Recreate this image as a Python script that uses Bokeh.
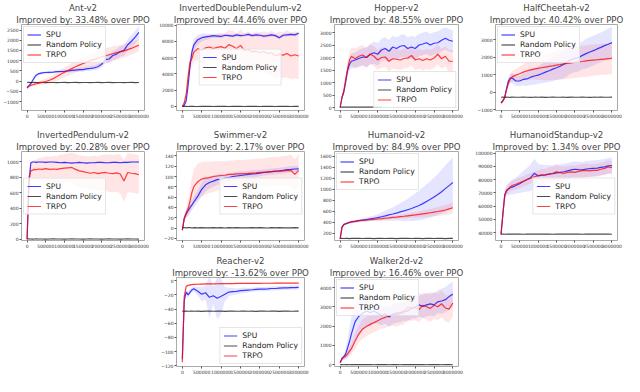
import numpy as np
from bokeh.plotting import figure
from bokeh.layouts import gridplot
from bokeh.models import Title, FixedTicker, BasicTickFormatter, Range1d
from bokeh.embed import file_html
from bokeh.resources import INLINE

NaN = float("nan")

# training steps (millions)
steps_m = [0, 0.05, 0.1, 0.15, 0.2, 0.25, 0.3,
           0.4, 0.5, 0.6, 0.7, 0.8, 0.9, 1.0,
           1.1, 1.2, 1.3, 1.4, 1.5, 1.6, 1.7, 1.8, 1.9, 2.0,
           2.1, 2.2, 2.3, 2.4, 2.5, 2.6, 2.7, 2.8, 2.9, 3.0]
x_ticks = [0, 500000, 1000000, 1500000, 2000000, 2500000, 3000000]
series_labels = ["SPU", "Random Policy", "TRPO"]

# ---------------- Ant-v2 ----------------
ant_spu = [-340, -220, -120, 30, 180, 300, 350,
           400, 420, 430, 440, 460, 470, 480,
           500, 520, 540, 560, 560, 600, 620, 650, 700, 820,
           1050, 1080, 1250, 1320, 1450, 1500, 1780, 1950, 2150, 2380]
ant_spu_err = [80, 80, 80, 70, 60, 60, 60,
               60, 60, 70, 70, 70, 80, 80,
               80, 90, 90, 100, 100, 110, 120, 120, 130, 150,
               180, 200, 220, 240, 250, 260, 280, 300, 320, 330]
ant_trpo = [-300, -250, -210, -180, -150, -130, -110,
            -70, -20, 40, 120, 220, 330, 430,
            520, 610, 700, 780, 860, 930, 1000, 1060, 1120, 1180,
            1240, 1290, 1340, 1390, 1430, 1480, 1540, 1600, 1680, 1760]
ant_trpo_err = [60, 60, 60, 70, 80, 90, 100,
                120, 140, 160, 180, 200, 220, 240,
                260, 280, 290, 300, 320, 330, 340, 350, 360, 370,
                370, 370, 360, 350, 340, 330, 320, 310, 300, 300]
ant_rand = [-70, -65, -75, -70, -68, -72, -70,
            -66, -74, -70, -69, -71, -70, -67,
            -73, -70, -68, -72, -70, -69, -71, -70, -66, -74,
            -70, -68, -72, -70, -69, -71, -70, -67, -73, -70]
ant_yticks = [-1000, -500, 0, 500, 1000, 1500, 2000, 2500]

# ---------------- InvertedDoublePendulum-v2 ----------------
idp_spu = [0, 150, 700, 2600, 5000, 6750, 7600,
           8200, 8450, 8550, 8600, 8700, 8650, 8600,
           8750, 8700, 8650, 8800, 8700, 8750, 8850, 8700, 8800, 8750,
           8650, 8700, 8800, 8700, 8450, 8750, 8800, 8850, 8800, 9000]
idp_spu_err = [0, 100, 300, 600, 700, 700, 700,
               600, 500, 400, 300, 250, 250, 250,
               200, 200, 200, 200, 200, 200, 200, 200, 200, 200,
               200, 200, 200, 200, 200, 200, 200, 200, 200, 200]
idp_trpo = [0, 450, 1500, 3700, 5500, 5900, 6700,
            7100, 6900, 7200, 7300, 7100, 7250, 7350,
            7150, 7600, 7400, 7100, 7500, 6900, 7000, 6700, 6800, 6600,
            6750, 6500, 6600, 6200, 6400, 6300, 6500, 6200, 6350, 6200]
idp_trpo_err = [0, 200, 500, 800, 900, 1000, 1200,
                1400, 1500, 1500, 1600, 1600, 1700, 1700,
                1800, 1800, 1900, 1900, 2000, 2100, 2200, 2300, 2400, 2500,
                2500, 2600, 2700, 2800, 2800, 2800, 2900, 2900, 2900, 2900]
idp_rand = [0, 10, 0, -10, 0, 10, 0,
            -10, 0, 10, 0, -10, 0, 10,
            0, -10, 0, 10, 0, -10, 0, 10, 0, -10,
            0, 10, 0, -10, 0, 10, 0, -10, 0, 10]
idp_yticks = [0, 2000, 4000, 6000, 8000, 10000]

# ---------------- Hopper-v2 ----------------
hop_spu = [0, 400, 630, 1040, 1500, 1730, 1850,
           1900, 1960, 2020, 2000, 2130, 2190, 2130,
           2300, 2360, 2250, 2420, 2360, 2450, 2480, 2360, 2420, 2360,
           2500, 2540, 2590, 2500, 2570, 2590, 2690, 2770, 2690, 2650]
hop_spu_err = [0, 50, 100, 150, 200, 250, 300,
               300, 350, 350, 400, 400, 450, 450,
               450, 450, 450, 450, 450, 450, 450, 450, 450, 450,
               450, 450, 450, 450, 450, 450, 450, 450, 450, 450]
hop_trpo = [0, 400, 680, 1150, 1550, 1900, 2050,
            1950, 2050, 2100, 2000, 2130, 2050, 1900,
            2000, 2020, 1850, 1950, 1930, 1900, 1960, 1980, 2080, 1900,
            1950, 1880, 1950, 1900, 1980, 2130, 1950, 2050, 1850, 1850]
hop_trpo_err = [0, 50, 150, 250, 300, 350, 350,
                400, 400, 400, 400, 400, 400, 400,
                400, 400, 400, 400, 400, 400, 400, 400, 400, 400,
                400, 400, 400, 400, 400, 400, 400, 400, 450, 450]
hop_rand = [15, 18, 14, 16, 15, 17, 15,
            16, 14, 18, 15, 16, 17, 15,
            16, NaN, NaN, NaN, NaN, NaN, NaN, NaN, NaN, NaN,
            NaN, NaN, NaN, NaN, NaN, NaN, NaN, NaN, NaN, NaN]
hop_yticks = [0, 500, 1000, 1500, 2000, 2500, 3000]

# ---------------- HalfCheetah-v2 ----------------
hc_spu = [-620, -490, -290, 220, 640, 810, 810,
          640, 640, 730, 760, 860, 930, 980,
          1060, 1150, 1230, 1320, 1400, 1490, 1600, 1740, 1870, 1940,
          1990, 2110, 2210, 2300, 2380, 2480, 2570, 2670, 2750, 2840]
hc_spu_err = [50, 80, 100, 150, 200, 250, 300,
              300, 300, 350, 400, 450, 500, 500,
              550, 600, 650, 700, 700, 750, 800, 800, 800, 800,
              800, 800, 850, 850, 850, 850, 850, 850, 900, 900]
hc_trpo = [-620, -500, -300, 150, 520, 760, 880,
           980, 1060, 1150, 1220, 1280, 1320, 1360,
           1400, 1440, 1480, 1510, 1550, 1580, 1620, 1650, 1680, 1720,
           1740, 1760, 1790, 1820, 1840, 1860, 1880, 1900, 1920, 1940]
hc_trpo_err = [50, 80, 100, 150, 200, 250, 300,
               350, 400, 450, 500, 550, 600, 650,
               700, 750, 800, 800, 850, 850, 900, 900, 900, 900,
               900, 900, 900, 900, 900, 900, 900, 900, 900, 900]
hc_rand = [-290, -285, -292, -288, -290, -294, -287,
           -290, -291, -286, -290, -293, -289, -290,
           -288, -292, -290, -287, -291, -290, -289, -293, -288, -290,
           -291, -287, -290, -292, -289, -290, -288, -291, -290, -289]
hc_yticks = [-1000, 0, 1000, 2000, 3000]

# ---------------- InvertedPendulum-v2 ----------------
ip_spu = [0, 700, 985, 995, 995, 990, 995,
          995, 990, 995, 995, 990, 985, 990,
          985, 980, 985, 990, 985, 980, 985, 985, 990, 990,
          985, 985, 990, 990, 985, 990, 990, 995, 995, 995]
ip_spu_err = [0, 60, 15, 10, 10, 10, 10,
              10, 10, 10, 10, 10, 10, 10,
              10, 10, 10, 10, 10, 10, 10, 10, 10, 10,
              10, 10, 10, 10, 10, 10, 10, 10, 10, 10]
ip_trpo = [0, 800, 880, 890, 900, 895, 905,
           900, 910, 900, 905, 900, 910, 915,
           920, 925, 900, 880, 870, 860, 850, 860, 845, 855,
           860, 850, 845, 855, 840, 750, 860, 850, 845, 830]
ip_trpo_err = [0, 100, 100, 110, 120, 130, 140,
               150, 160, 160, 170, 170, 180, 180,
               190, 190, 200, 200, 210, 210, 220, 220, 220, 230,
               230, 240, 240, 240, 250, 270, 250, 250, 250, 250]
ip_rand = [3, 4, 3, 2, 3, 4, 3,
           3, 2, 3, 4, 3, 3, 2,
           3, 4, 3, 3, 2, 3, 4, 3, 3, 2,
           3, 4, 3, 3, 2, 3, 4, 3, 3, 2]
ip_yticks = [0, 200, 400, 600, 800, 1000]

# ---------------- Swimmer-v2 ----------------
sw_spu = [-4, 19, 27, 34, 40, 45, 51,
          62, 75, 84, 88.5, 91, 94, 95,
          97, 98, 100, 101, 102, 103, 104, 105, 105.5, 106.7,
          108, 108.5, 109.5, 110.6, 111, 112, 113.5, 114, 114.6, 115]
sw_spu_err = [3, 6, 7, 8, 9, 10, 11,
              12, 13, 13, 12, 11, 10, 10,
              9, 9, 8, 8, 8, 7, 7, 7, 7, 6,
              6, 6, 6, 6, 6, 6, 6, 6, 6, 6]
sw_trpo = [-4, 19, 30, 37.5, 53, 70, 81,
           90, 95, 97, 98, 100, 101, 102,
           102.5, 104, 104, 105, 105, 105.5, 106, 106.7, 107, 108,
           108, 109, 109.5, 110, 110.5, 111, 111.5, 112, 104, 112]
sw_trpo_err = [3, 6, 10, 15, 25, 30, 33,
               35, 33, 32, 30, 30, 28, 28,
               27, 27, 27, 27, 27, 27, 27, 27, 27, 27,
               27, 28, 28, 28, 28, 29, 29, 30, 30, 31]
sw_rand = [0.5, 1.2, 0.3, 0.8, 1.0, 0.2, 0.9,
           0.4, 1.1, 0.6, 0.3, 1.0, 0.5, 0.8,
           0.2, 0.9, 0.6, 1.1, 0.4, 0.7, 0.3, 1.0, 0.5, 0.8,
           0.6, 0.2, 0.9, 0.5, 1.0, 0.4, 0.7, 0.3, 0.8, 0.6]
sw_yticks = [-20, 0, 20, 40, 60, 80, 100, 120, 140]

# ---------------- Humanoid-v2 ----------------
hu_spu = [100, 320, 365, 375, 387, 398, 409,
          420, 431, 442, 453, 464, 475, 486,
          503, 519, 536, 552, 569, 591, 608, 630, 652, 680,
          707, 740, 779, 818, 862, 906, 956, 1011, 1066, 1121]
hu_spu_err = [10, 20, 20, 20, 20, 20, 20,
              25, 30, 35, 40, 45, 50, 60,
              75, 90, 105, 120, 140, 160, 180, 200, 225, 250,
              270, 290, 310, 330, 350, 370, 395, 420, 440, 460]
hu_trpo = [100, 310, 360, 375, 390, 400, 410,
           420, 430, 437, 443, 450, 456, 462,
           468, 475, 482, 490, 497, 505, 512, 520, 528, 536,
           545, 555, 565, 575, 585, 597, 610, 625, 645, 665]
hu_trpo_err = [10, 20, 20, 20, 20, 20, 20,
               20, 20, 20, 20, 20, 25, 25,
               25, 30, 30, 30, 35, 35, 40, 40, 45, 50,
               55, 60, 65, 70, 75, 80, 85, 90, 95, 100]
hu_rand = [110, 112, 109, 111, 110, 108, 111,
           110, 112, 109, 110, 111, 108, 110,
           112, 109, 111, 110, 108, 111, 110, 112, 109, 110,
           111, 108, 110, 112, 109, 111, 110, 108, 111, 110]
hu_yticks = [200, 400, 600, 800, 1000, 1200, 1400, 1600]

# ---------------- HumanoidStandup-v2 ----------------
hs_spu = [38600, 54000, 68100, 71700, 72900, 73800, 74300,
          75500, 76900, 78500, 80000, 81400, 84700, 82800,
          83300, 83500, 84000, 84400, 85100, 85400, 85900, 86600, 87300, 87800,
          87500, 87300, 88000, 88200, 88500, 88700, 89200, 89600, 90400, 90600]
hs_spu_err = [1000, 3000, 4000, 4000, 4500, 5000, 5500,
              6000, 7000, 8000, 9000, 10000, 11000, 9000,
              8000, 7500, 7000, 6500, 6500, 6000, 6000, 6000, 6000, 6000,
              6000, 6000, 6000, 6000, 6000, 6000, 6000, 6000, 6000, 6000]
hs_trpo = [38600, 54000, 68500, 71500, 73000, 74500, 75500,
           76500, 77500, 78700, 79900, 81000, 82000, 83000,
           83400, 83600, 84300, 84800, 85800, 85200, 84600, 85500, 85800, 85400,
           86200, 86800, 87000, 86600, 87000, 87000, 87800, 88500, 89500, 89000]
hs_trpo_err = [1000, 2000, 3000, 3000, 3500, 3500, 3500,
               4000, 4000, 4000, 4000, 4000, 4000, 4000,
               4500, 4500, 5000, 5000, 5000, 5000, 5000, 5000, 5000, 5000,
               5000, 5000, 5000, 5000, 5000, 5000, 5000, 5000, 5000, 5000]
hs_rand = [38800, 38900, 38700, 38800, 38850, 38750, 38800,
           38900, 38800, 38700, 38800, 38850, 38800, 38750,
           38800, 38900, 38800, 38700, 38800, 38850, 38800, 38750, 38800, 38900,
           38800, 38700, 38800, 38850, 38800, 38750, 38800, 38900, 38800, 38700]
hs_yticks = [40000, 50000, 60000, 70000, 80000, 90000, 100000]

# ---------------- Reacher-v2 ----------------
re_spu = [-110, -27.7, -16, -20, -16, -12.8, -11.5,
          -15, -19, -17, -23.4, -21.3, -24.7, -22,
          -19, -16, -15.3, -15, -14, -13.6, -13.2, -12.8, -12.3, -11.9,
          -11.9, -11.5, -11, -11, -10.6, -10.2, -10.2, -9.8, -9.8, -9.4]
re_spu_err = [2, 5, 4, 4, 4, 4, 4,
              6, 10, 10, 30, 12, 30, 25,
              10, 6, 5, 4, 4, 4, 3, 3, 3, 3,
              3, 3, 3, 3, 3, 3, 3, 3, 3, 3]
re_trpo = [-115, -22, -8, -6.5, -6, -5.5, -5.2,
           -5, -4.8, -4.6, -4.5, -4.4, -4.3, -4.2,
           -4.1, -4.0, -4.0, -3.9, -3.9, -3.8, -3.8, -3.7, -3.7, -3.7,
           -3.6, -3.6, -3.6, -3.5, -3.5, -3.5, -3.4, -3.4, -3.4, -3.4]
re_trpo_err = [1, 1, 1, 1, 1, 1, 1,
               1, 1, 1, 1, 1, 1, 1,
               1, 1, 1, 1, 1, 1, 1, 1, 1, 1,
               1, 1, 1, 1, 1, 1, 1, 1, 1, 1]
re_rand = [-43, -43.2, -42.9, -43.1, -43, -42.8, -43.1,
           -43, -43.2, -42.9, -43, -43.1, -42.9, -43,
           -43.2, -43, -42.9, -43.1, -43, -42.8, -43.1, -43, -43.2, -42.9,
           -43, -43.1, -42.9, -43, -43.2, -43, -42.9, -43.1, -43, -42.8]
re_yticks = [-120, -100, -80, -60, -40, -20, 0]

# ---------------- Walker2d-v2 ----------------
wa_spu = [95, 330, 410, 570, 885, 1200, 1600,
          2230, 2510, 2670, 2780, 2700, 2780, 2670,
          2545, 2620, 2470, 2620, 2670, 2700, 2780, 2780, 2940, 2990,
          3100, 3020, 3100, 3150, 3100, 3260, 3300, 3370, 3530, 3650]
wa_spu_err = [50, 100, 150, 300, 500, 700, 900,
              1000, 1000, 900, 800, 700, 600, 550,
              500, 500, 500, 500, 500, 500, 500, 550, 550, 600,
              600, 600, 600, 600, 600, 600, 650, 650, 650, 650]
wa_trpo = [95, 300, 380, 450, 560, 700, 830,
           1230, 1600, 1850, 1980, 2090, 2180, 2280,
           2380, 2450, 2550, 2600, 2580, 2650, 2700, 2980, 2920, 2950,
           2850, 3080, 3000, 2920, 3080, 3000, 3160, 2940, 2880, 3200]
wa_trpo_err = [50, 80, 100, 150, 200, 250, 300,
               400, 450, 500, 500, 500, 500, 500,
               500, 550, 550, 600, 600, 600, 600, 650, 650, 650,
               650, 650, 700, 700, 700, 700, 700, 700, 700, 700]
wa_rand = [0, 5, -3, 2, 0, -4, 3,
           0, 4, -2, 1, 0, -3, 2,
           0, 5, -3, 2, 0, -4, 3, 0, 4, -2,
           1, 0, -3, 2, 0, 5, -3, 2, 0, -4]
wa_yticks = [0, 1000, 2000, 3000, 4000]

# ---------------- layout ----------------
SX = 624 / 640
ROW_REF_H = [125, 135, 132]
ROW_H = [120, 130, 126]
CELL_REF_W = 160
CELL_W = 156


def make_panel(name, improved, spu, spu_err, trpo, trpo_err, rand, yrange, yticks,
               row, frame_ref, legend_loc):
    L, T, R, B = frame_ref
    sy = ROW_H[row] / ROW_REF_H[row]
    p = figure(width=CELL_W, height=ROW_H[row], output_backend="svg",
               toolbar_location=None, title=None,
               x_range=Range1d(-150000, 3150000), y_range=Range1d(*yrange),
               min_border_left=int(round(L * SX)),
               min_border_right=int(round((CELL_REF_W - R) * SX)),
               min_border_top=int(round(T * sy)),
               min_border_bottom=int(round((ROW_REF_H[row] - B) * sy)))
    p.add_layout(Title(text=improved, align="center", text_font="DejaVu Sans",
                       text_font_size="8.6px", text_font_style="normal",
                       standoff=0, offset=0), "above")
    p.add_layout(Title(text=name, align="center", text_font="DejaVu Sans",
                       text_font_size="8.6px", text_font_style="normal",
                       standoff=0, offset=0), "above")
    x = [s * 1e6 for s in steps_m]
    s_lo = [m - e for m, e in zip(spu, spu_err)]
    s_hi = [m + e for m, e in zip(spu, spu_err)]
    t_lo = [m - e for m, e in zip(trpo, trpo_err)]
    t_hi = [m + e for m, e in zip(trpo, trpo_err)]
    p.varea(x=x, y1=s_lo, y2=s_hi, fill_color="blue", fill_alpha=0.1)
    p.varea(x=x, y1=t_lo, y2=t_hi, fill_color="red", fill_alpha=0.1)
    p.line(x, spu, color="blue", line_alpha=0.75, line_width=1.2,
           legend_label=series_labels[0])
    p.line(x, rand, color="black", line_alpha=0.7, line_width=1.2,
           legend_label=series_labels[1])
    p.line(x, trpo, color="red", line_alpha=0.75, line_width=1.2,
           legend_label=series_labels[2])

    p.xaxis.ticker = FixedTicker(ticks=x_ticks)
    p.xaxis.formatter = BasicTickFormatter(use_scientific=False)
    p.yaxis.ticker = FixedTicker(ticks=yticks)
    p.yaxis.formatter = BasicTickFormatter(use_scientific=False)
    for ax in (p.xaxis, p.yaxis):
        ax.major_label_text_font = "DejaVu Sans"
        ax.major_label_text_font_size = "4.5px"
        ax.major_label_text_color = "#333333"
        ax.major_label_standoff = 1
        ax.major_tick_out = 2
        ax.major_tick_in = 0
        ax.major_tick_line_color = "#555555"
        ax.minor_tick_line_color = None
        ax.axis_line_color = None
    p.xgrid.visible = False
    p.ygrid.visible = False
    p.outline_line_color = "#aaaaaa"
    p.outline_line_width = 1
    p.background_fill_color = "white"
    p.border_fill_color = "white"

    lg = p.legend[0]
    lg.location = legend_loc
    lg.margin = 2
    lg.padding = 3
    lg.spacing = 1
    lg.label_height = 9
    lg.glyph_height = 9
    lg.glyph_width = 14
    lg.label_standoff = 5
    lg.label_text_font = "DejaVu Sans"
    lg.label_text_font_size = "7.6px"
    lg.label_text_color = "#222222"
    lg.border_line_color = "#cccccc"
    lg.background_fill_alpha = 0.8
    return p


p_ant = make_panel("Ant-v2", "Improved by: 33.48% over PPO", ant_spu, ant_spu_err,
                   ant_trpo, ant_trpo_err, ant_rand, (-1440, 2770), ant_yticks,
                   0, (20, 21, 148, 117), "top_left")
p_idp = make_panel("InvertedDoublePendulum-v2", "Improved by: 44.46% over PPO", idp_spu,
                   idp_spu_err, idp_trpo, idp_trpo_err, idp_rand, (-500, 10070),
                   idp_yticks, 0, (19, 19, 152, 118), "center")
p_hop = make_panel("Hopper-v2", "Improved by: 48.55% over PPO", hop_spu, hop_spu_err,
                   hop_trpo, hop_trpo_err, hop_rand, (-120, 3320), hop_yticks,
                   0, (19, 19, 153, 118), "bottom_right")
p_hc = make_panel("HalfCheetah-v2", "Improved by: 40.42% over PPO", hc_spu, hc_spu_err,
                  hc_trpo, hc_trpo_err, hc_rand, (-1050, 3880), hc_yticks,
                  0, (25, 21, 153, 118), "top_left")
p_ip = make_panel("InvertedPendulum-v2", "Improved by: 20.28% over PPO", ip_spu, ip_spu_err,
                  ip_trpo, ip_trpo_err, ip_rand, (-16, 1130), ip_yticks,
                  1, (17, 32, 148, 125), "center_left")
p_sw = make_panel("Swimmer-v2", "Improved by: 2.17% over PPO", sw_spu, sw_spu_err,
                  sw_trpo, sw_trpo_err, sw_rand, (-24, 148.5), sw_yticks,
                  1, (18, 28, 153, 130), "center_right")
p_hu = make_panel("Humanoid-v2", "Improved by: 84.9% over PPO", hu_spu, hu_spu_err,
                  hu_trpo, hu_trpo_err, hu_rand, (73, 1683), hu_yticks,
                  1, (23, 28, 153, 126), "top_left")
p_hs = make_panel("HumanoidStandup-v2", "Improved by: 1.34% over PPO", hs_spu, hs_spu_err,
                  hs_trpo, hs_trpo_err, hs_rand, (34000, 101200), hs_yticks,
                  1, (28, 30, 153, 125), "center_right")
p_re = make_panel("Reacher-v2", "Improved by: -13.62% over PPO", re_spu, re_spu_err,
                  re_trpo, re_trpo_err, re_rand, (-121, 4.5), re_yticks,
                  2, (20, 28, 152, 125), "bottom_right")
p_wa = make_panel("Walker2d-v2", "Improved by: 16.46% over PPO", wa_spu, wa_spu_err,
                  wa_trpo, wa_trpo_err, wa_rand, (-95, 4520), wa_yticks,
                  2, (21, 27, 150, 124), "top_left")

grid = gridplot([[p_ant, p_idp, p_hop, p_hc],
                 [p_ip, p_sw, p_hu, p_hs],
                 [None, p_re, p_wa, None]], toolbar_location=None)

open("out.html", "w").write(file_html(grid, INLINE))
